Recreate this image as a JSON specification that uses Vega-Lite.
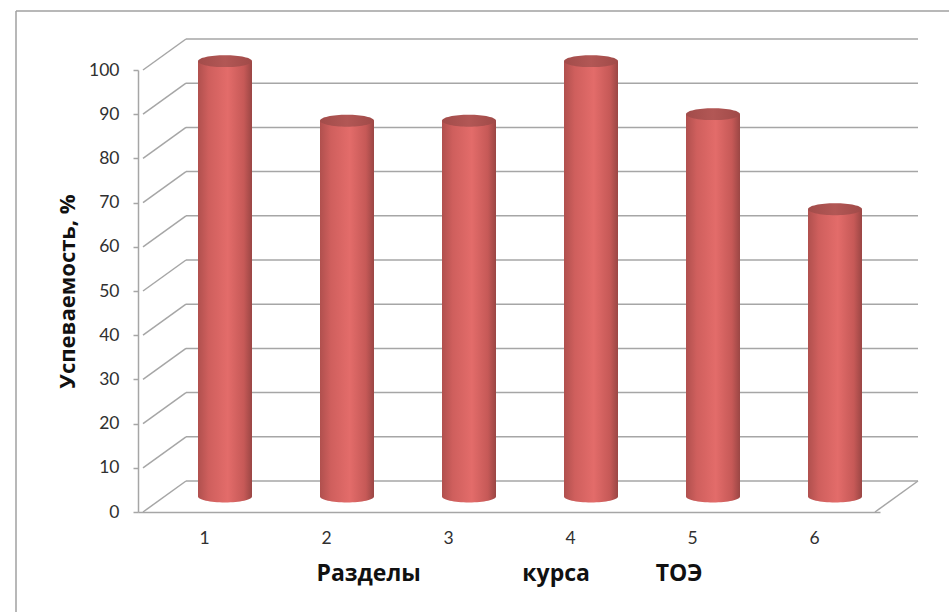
{
  "$schema": "https://vega.github.io/schema/vega-lite/v6.json",
  "width": 742,
  "height": 442,
  "autosize": {"type": "none"},
  "padding": {"left": 138, "top": 70, "right": 69, "bottom": 100},
  "background": "white",
  "config": {
    "view": {"stroke": null},
    "axis": {"labelFont": "Lato", "labelColor": "#303030", "titleFont": "Open Sans", "titleColor": "#111111"}
  },
  "datasets": {
    "bars": [
      {"razdel": 1, "uspev": 98.5},
      {"razdel": 2, "uspev": 85},
      {"razdel": 3, "uspev": 85},
      {"razdel": 4, "uspev": 98.5},
      {"razdel": 5, "uspev": 86.5},
      {"razdel": 6, "uspev": 65}
    ],
    "grid": [
      {"v": 0}, {"v": 10}, {"v": 20}, {"v": 30}, {"v": 40}, {"v": 50},
      {"v": 60}, {"v": 70}, {"v": 80}, {"v": 90}, {"v": 100}
    ]
  },
  "resolve": {"scale": {"x": "shared", "y": "shared"}},
  "layer": [
    {
      "data": {"name": "grid"},
      "mark": {"type": "rule", "color": "#a6a6a6", "strokeWidth": 1.5, "xOffset": 43, "x2Offset": 43, "yOffset": -31},
      "encoding": {
        "x": {"datum": 0.5, "type": "quantitative",
          "scale": {"domain": [0.5, 6.5], "nice": false, "zero": false},
          "axis": {
            "values": [1, 2, 3, 4, 5, 6], "format": "d",
            "title": "Разделы\u00a0\u00a0\u00a0\u00a0\u00a0\u00a0\u00a0\u00a0\u00a0\u00a0\u00a0\u00a0\u00a0\u00a0\u00a0\u00a0\u00a0курса\u00a0\u00a0\u00a0\u00a0\u00a0\u00a0\u00a0\u00a0\u00a0\u00a0\u00a0ТОЭ",
            "titleFontSize": 23, "titleFontWeight": "bold", "titlePadding": 16,
            "labelFontSize": 17.5, "labelPadding": 17, "ticks": false,
            "domainColor": "#a6a6a6", "domainWidth": 1.5, "grid": false
          }
        },
        "x2": {"datum": 6.5},
        "y": {"field": "v", "type": "quantitative",
          "scale": {"domain": [0, 100], "nice": false},
          "axis": {
            "values": [0, 10, 20, 30, 40, 50, 60, 70, 80, 90, 100],
            "title": "Успеваемость, %",
            "titleFontSize": 22, "titleFontWeight": "bold", "titlePadding": 9,
            "labelFontSize": 17.5, "labelPadding": 14, "tickSize": 5,
            "tickColor": "#a6a6a6", "tickWidth": 1.5,
            "domainColor": "#a6a6a6", "domainWidth": 1.5, "grid": false
          }
        }
      }
    },
    {
      "data": {"name": "grid"},
      "mark": {"type": "rule", "color": "#a6a6a6", "strokeWidth": 1.5, "x2Offset": 43, "y2Offset": -31},
      "encoding": {
        "x": {"datum": 0.5, "type": "quantitative"},
        "x2": {"datum": 0.5},
        "y": {"field": "v", "type": "quantitative"},
        "y2": {"field": "v"}
      }
    },
    {
      "data": {"values": [{"k": 1}]},
      "mark": {"type": "rule", "color": "#a6a6a6", "strokeWidth": 1.5, "x2Offset": 43, "y2Offset": -31},
      "encoding": {
        "x": {"datum": 6.5, "type": "quantitative"},
        "x2": {"datum": 6.5},
        "y": {"datum": 0, "type": "quantitative"},
        "y2": {"datum": 0}
      }
    },
    {
      "data": {"values": [{"k": 1}]},
      "mark": {"type": "rule", "color": "#a0a0a0", "strokeWidth": 1.5, "xOffset": -127, "x2Offset": 80, "yOffset": -59},
      "encoding": {
        "x": {"datum": 0.5, "type": "quantitative"},
        "x2": {"datum": 6.5},
        "y": {"datum": 100, "type": "quantitative"}
      }
    },
    {
      "data": {"values": [{"k": 1}]},
      "mark": {"type": "rule", "color": "#a0a0a0", "strokeWidth": 1.5, "xOffset": -127, "yOffset": -59, "y2Offset": 110},
      "encoding": {
        "x": {"datum": 0.5, "type": "quantitative"},
        "y": {"datum": 100, "type": "quantitative"},
        "y2": {"datum": 0}
      }
    },
    {
      "data": {"name": "bars"},
      "mark": {
        "type": "point",
        "shape": "M-1,0A1,0.22,0,1,1,1,0A1,0.22,0,1,1,-1,0Z",
        "size": 2916,
        "filled": true,
        "opacity": 1,
        "strokeWidth": 0,
        "xOffset": 21,
        "yOffset": -15.5,
        "color": {"gradient": "linear", "x1": 0, "y1": 0, "x2": 1, "y2": 0,
          "stops": [
            {"offset": 0, "color": "#b0504e"},
            {"offset": 0.2, "color": "#cf5f5d"},
            {"offset": 0.55, "color": "#e36c6a"},
            {"offset": 0.85, "color": "#c65957"},
            {"offset": 1, "color": "#9a4644"}
          ]}
      },
      "encoding": {
        "x": {"field": "razdel", "type": "quantitative"},
        "y": {"datum": 0, "type": "quantitative"}
      }
    },
    {
      "data": {"name": "bars"},
      "mark": {
        "type": "bar",
        "width": 54,
        "xOffset": 21,
        "yOffset": -15.5,
        "color": {"gradient": "linear", "x1": 0, "y1": 0, "x2": 1, "y2": 0,
          "stops": [
            {"offset": 0, "color": "#b0504e"},
            {"offset": 0.2, "color": "#cf5f5d"},
            {"offset": 0.55, "color": "#e36c6a"},
            {"offset": 0.85, "color": "#c65957"},
            {"offset": 1, "color": "#9a4644"}
          ]}
      },
      "encoding": {
        "x": {"field": "razdel", "type": "quantitative"},
        "y": {"field": "uspev", "type": "quantitative"}
      }
    },
    {
      "data": {"name": "bars"},
      "mark": {
        "type": "point",
        "shape": "M-1,0A1,0.22,0,1,1,1,0A1,0.22,0,1,1,-1,0Z",
        "size": 2916,
        "filled": true,
        "opacity": 1,
        "strokeWidth": 0,
        "xOffset": 21,
        "yOffset": -15.5,
        "color": {"gradient": "linear", "x1": 0, "y1": 0, "x2": 1, "y2": 0,
          "stops": [
            {"offset": 0, "color": "#a24c4a"},
            {"offset": 0.5, "color": "#b25755"},
            {"offset": 1, "color": "#a04a48"}
          ]}
      },
      "encoding": {
        "x": {"field": "razdel", "type": "quantitative"},
        "y": {"field": "uspev", "type": "quantitative"}
      }
    }
  ]
}
